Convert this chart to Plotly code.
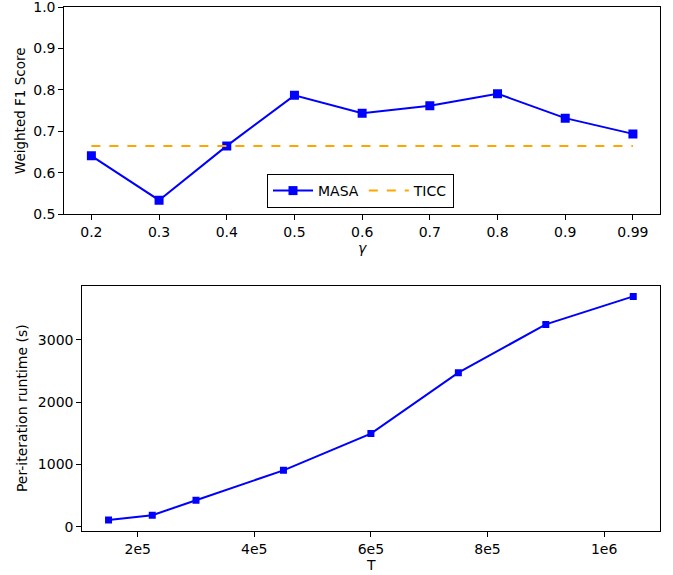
import plotly.graph_objects as go

# ---- data ----
gamma_labels = ["0.2", "0.3", "0.4", "0.5", "0.6", "0.7", "0.8", "0.9", "0.99"]
masa_f1 = [0.641, 0.534, 0.665, 0.787, 0.744, 0.762, 0.791, 0.732, 0.694]
ticc_f1 = [0.665] * len(gamma_labels)

T_values = [150000, 225000, 300000, 450000, 600000, 750000, 900000, 1050000]
runtime = [108, 183, 425, 905, 1495, 2475, 3250, 3700]

t_tickvals = [200000, 400000, 600000, 800000, 1000000]
t_ticktext = ["2e5", "4e5", "6e5", "8e5", "1e6"]
f1_ticks = [0.5, 0.6, 0.7, 0.8, 0.9, 1.0]
f1_ticktext = ["0.5", "0.6", "0.7", "0.8", "0.9", "1.0"]
rt_ticks = [0, 1000, 2000, 3000]

W, H = 673, 575
FONT = "DejaVu Sans"
BLUE = "#0000ff"
ORANGE = "#ffa500"

fig = go.Figure()

fig.add_trace(go.Scatter(
    x=gamma_labels, y=masa_f1, name="MASA", mode="lines+markers",
    line=dict(color=BLUE, width=2),
    marker=dict(symbol="square", size=9, color=BLUE),
    xaxis="x", yaxis="y",
))
fig.add_trace(go.Scatter(
    x=gamma_labels, y=ticc_f1, name="TICC", mode="lines",
    line=dict(color=ORANGE, width=2, dash="dash"),
    xaxis="x", yaxis="y",
))
fig.add_trace(go.Scatter(
    x=T_values, y=runtime, name="runtime", mode="lines+markers",
    line=dict(color=BLUE, width=2),
    marker=dict(symbol="square", size=7, color=BLUE),
    xaxis="x2", yaxis="y2", showlegend=False,
))

axis_common = dict(
    showline=True, linecolor="black", linewidth=1, mirror=True,
    ticks="outside", ticklen=5, tickwidth=1, tickcolor="black",
    showgrid=False, zeroline=False, ticklabeloverflow="allow",
    automargin=False,
    tickfont=dict(family=FONT, size=14, color="black"),
)

TOP_Y0, TOP_Y1 = 7.0, 214.3
BOT_Y0, BOT_Y1 = 285.5, 530.7
TOP_X0, TOP_X1 = 64.3, 660.0
BOT_X0, BOT_X1 = 82.3, 659.5

fig.update_layout(
    width=W, height=H,
    margin=dict(l=0, r=0, t=0, b=0, autoexpand=False),
    paper_bgcolor="white", plot_bgcolor="white",
    font=dict(family=FONT, size=14, color="black"),
    xaxis=dict(
        **axis_common,
        type="category", range=[-0.4, 8.4],
        domain=[TOP_X0 / W, TOP_X1 / W], anchor="y",
    ),
    yaxis=dict(
        **axis_common,
        range=[0.5, 1.0001], tickvals=f1_ticks, ticktext=f1_ticktext,
        domain=[1 - TOP_Y1 / H, 1 - TOP_Y0 / H], anchor="x",
    ),
    xaxis2=dict(
        **axis_common,
        range=[105000, 1095000], tickvals=t_tickvals, ticktext=t_ticktext,
        domain=[BOT_X0 / W, BOT_X1 / W], anchor="y2",
    ),
    yaxis2=dict(
        **axis_common,
        range=[-65, 3875], tickvals=rt_ticks,
        domain=[1 - BOT_Y1 / H, 1 - BOT_Y0 / H], anchor="x2",
    ),
    legend=dict(
        orientation="h", x=360.5 / W, xanchor="center",
        y=1 - 208 / H, yanchor="bottom",
        bordercolor="black", borderwidth=1, bgcolor="white",
        font=dict(family=FONT, size=14),
        itemwidth=40,
    ),
)

titles = [
    dict(text="Weighted F1 Score", x=19.5, y=(TOP_Y0 + TOP_Y1) / 2, angle=-90, size=13.5),
    dict(text="Per-iteration runtime (s)", x=22, y=(BOT_Y0 + BOT_Y1) / 2, angle=-90, size=14),
    dict(text="<i>γ</i>", x=(TOP_X0 + TOP_X1) / 2, y=248, angle=0, size=14),
    dict(text="T", x=(BOT_X0 + BOT_X1) / 2, y=565, angle=0, size=14),
]
for t in titles:
    fig.add_annotation(
        text=t["text"], xref="paper", yref="paper",
        x=t["x"] / W, y=1 - t["y"] / H, xanchor="center", yanchor="middle",
        textangle=t["angle"], showarrow=False,
        font=dict(family=FONT, size=t["size"], color="black"),
    )

fig.write_html("out.html")
